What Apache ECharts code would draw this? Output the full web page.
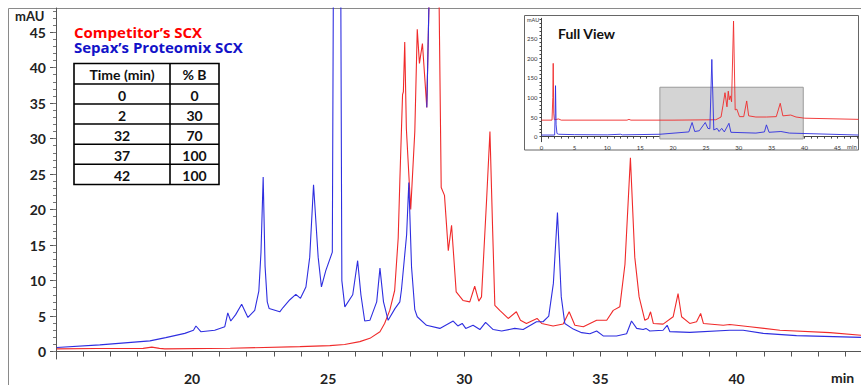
<!DOCTYPE html>
<html>
<head>
<meta charset="utf-8">
<script src="https://cdn.jsdelivr.net/npm/echarts@6/dist/echarts.min.js"></script>
<style>
  html, body { margin: 0; padding: 0; background: #fff; }
  #chart { width: 861px; height: 385px; }
</style>
</head>
<body>
<div id="chart"></div>
<script>
// main view, [time (min), mAU]
const competitorTrace = [
  [15.03, 0.38], [16.5, 0.42], [18.2, 0.45], [18.52, 0.62], [18.8, 0.45], [19.0, 0.38], [21.4, 0.46],
  [23.96, 0.7], [25.06, 0.84], [25.6, 1.0], [26.16, 1.4], [26.53, 1.86], [26.9, 2.8], [27.07, 3.96],
  [27.26, 5.8], [27.44, 8.6], [27.57, 16], [27.63, 24], [27.73, 36.2], [27.76, 36.6], [27.81, 43.6],
  [27.87, 31.4], [28.03, 20.0], [28.18, 31], [28.27, 45.4], [28.35, 40.6], [28.46, 43.4], [28.62, 34.4],
  [28.7, 49], [28.9, 250], [29.07, 50], [29.15, 23.1], [29.27, 22], [29.41, 14.2], [29.53, 17.8],
  [29.7, 8.4], [29.95, 7.2], [30.2, 7.0], [30.38, 9.2], [30.53, 7.1], [30.63, 7.7], [30.82, 21.6],
  [30.94, 31.0], [31.04, 17], [31.12, 6.5], [31.3, 5.8], [31.61, 4.66], [31.91, 5.6], [32.06, 4.4],
  [32.28, 3.96], [32.67, 4.66], [32.84, 3.96], [33.26, 3.6], [33.63, 3.87], [33.85, 5.6], [34.06, 3.7],
  [34.37, 3.5], [34.86, 4.4], [35.23, 4.4], [35.47, 5.8], [35.71, 6.3], [35.9, 12.3], [36.1, 27.3],
  [36.26, 13.3], [36.42, 7.7], [36.63, 4.4], [36.75, 4.66], [36.84, 5.6], [36.94, 3.96], [37.3, 3.87],
  [37.67, 4.9], [37.85, 8.15], [37.98, 4.9], [38.28, 3.96], [38.53, 4.2], [38.68, 5.36], [38.78, 3.96],
  [39.51, 3.7], [39.75, 3.8], [40.49, 3.5], [41.59, 3.0], [43.43, 2.66], [44.57, 2.3]
];
const sepaxTrace = [
  [15.03, 0.56], [16.61, 0.94], [18.45, 1.5], [19.03, 1.96], [19.73, 2.56], [20.05, 3.0], [20.14, 3.6],
  [20.32, 2.8], [20.83, 3.0], [21.2, 3.5], [21.31, 5.45], [21.42, 4.3], [21.6, 5.2], [21.82, 6.67],
  [22.05, 4.8], [22.3, 5.8], [22.45, 8.5], [22.53, 14], [22.61, 24.6], [22.68, 12], [22.76, 7],
  [22.83, 6.06], [23.22, 5.6], [23.34, 6.2], [23.59, 7.3], [23.81, 8.05], [23.98, 7.5], [24.18, 9.1],
  [24.32, 13.3], [24.46, 23.5], [24.63, 13.3], [24.75, 9.1], [24.91, 11.4], [25.15, 14], [25.33, 190],
  [25.5, 10], [25.61, 6.3], [25.9, 8], [26.08, 12.8], [26.2, 8], [26.34, 4.3], [26.53, 4.4], [26.78, 7],
  [26.9, 11.75], [27.03, 7], [27.2, 4.4], [27.45, 6.05], [27.63, 7.0], [27.69, 8.7], [27.88, 16.5],
  [27.96, 23.8], [28.06, 11.9], [28.18, 5.9], [28.27, 4.9], [28.61, 3.7], [29.1, 3.26], [29.59, 4.3],
  [29.76, 3.6], [29.92, 3.96], [30.05, 3.26], [30.32, 3.7], [30.57, 3.1], [30.78, 4.1], [31.06, 3.1],
  [31.37, 2.9], [31.85, 3.26], [32.16, 3.1], [32.65, 4.2], [32.89, 4.2], [33.1, 5], [33.27, 9.6],
  [33.42, 19.6], [33.56, 7.7], [33.69, 3.96], [34.0, 3.16], [34.31, 2.66], [34.61, 2.5], [34.86, 2.9],
  [35.1, 2.2], [35.59, 2.2], [35.96, 2.5], [36.14, 4.3], [36.33, 3.26], [36.57, 3.1], [36.67, 3.26],
  [36.81, 2.9], [37.3, 3.0], [37.45, 3.7], [37.55, 2.8], [38.28, 2.7], [39.75, 3.0], [40.24, 3.0],
  [40.98, 2.56], [42.2, 2.24], [44.57, 2.0]
];
// short piece of the big competitor peak that shows in blue in the original
const overlapPiece = [[28.62, 34.4], [28.7, 49]];

// full view inset
const fullCompetitor = [
  [0, 42], [1.6, 42], [1.72, 100], [1.78, 187], [1.86, 60], [1.95, 43], [2.6, 45], [3.0, 42], [13, 42],
  [13.3, 44], [13.6, 42], [20, 42], [26.5, 43], [27.3, 50], [27.6, 80], [27.9, 112], [28.2, 76],
  [28.4, 116], [28.55, 94], [28.7, 104], [28.9, 89], [29.2, 295], [29.45, 68], [29.7, 70], [30.1, 51],
  [30.75, 51], [31.2, 91], [31.5, 53], [32.6, 50], [34.2, 50], [35.7, 51], [36.3, 85], [36.7, 53],
  [37.9, 55], [38.7, 50], [40, 47], [48.2, 44]
];
const fullSepax = [
  [0, 4], [2.0, 4], [2.08, 60], [2.13, 130], [2.22, 30], [2.35, 8], [2.6, 6], [5, 5], [10, 4.5], [12, 6],
  [12.3, 4.5], [18, 6], [22.4, 12], [22.9, 36], [23.3, 13], [24, 15], [24.9, 36], [25.3, 21], [25.6, 20],
  [25.9, 197], [26.2, 17], [26.7, 21], [27.0, 13], [27.4, 21], [27.8, 12], [28.5, 34], [28.8, 11],
  [32.6, 9], [33.9, 12], [34.2, 30], [34.6, 11], [36.4, 13], [37.7, 9], [48.2, 4]
];
const zoomWindowMin = [18, 39.8];
const zoomWindowMAU = [-6, 126];

const gradientTime = ['0', '2', '32', '37', '42'];
const gradientB = ['0', '30', '70', '100', '100'];

const mainLabels = [0, 5, 10, 15, 20, 25, 30, 35, 40, 45];
const mainMinor = Array.from({ length: 49 }, (_, i) => i);
const insetLabels = [0, 50, 100, 150, 200, 250];
const insetMinor = Array.from({ length: 31 }, (_, i) => i * 10);

const RED = '#f02a2a';
const BLUE = '#2e2ee0';
const FONT = 'Lato, "Open Sans", sans-serif';
const LEGEND_FONT = '"Open Sans", sans-serif';

const chart = echarts.init(document.getElementById('chart'), null, { renderer: 'svg' });

// gradient table
const tableEls = [];
const rowLines = [84, 104, 124, 144.3, 164.3];
const rowMid = [95, 115, 135.5, 155.5, 175.5];
tableEls.push({ type: 'rect', shape: { x: 74, y: 63.5, width: 145, height: 121 }, style: { fill: '#fff', stroke: '#000', lineWidth: 1.6 } });
tableEls.push({ type: 'line', shape: { x1: 170, y1: 63.5, x2: 170, y2: 184.5 }, style: { stroke: '#000', lineWidth: 1.6 } });
rowLines.forEach(y => {
  tableEls.push({ type: 'line', shape: { x1: 74, y1: y, x2: 219, y2: y }, style: { stroke: '#000', lineWidth: 1.6 } });
});
const cellFont = { fontSize: 14, fontWeight: 'bold', fontFamily: FONT, fill: '#111', align: 'center', verticalAlign: 'middle' };
tableEls.push({ type: 'text', x: 122, y: 74.5, style: Object.assign({ text: 'Time (min)' }, cellFont) });
tableEls.push({ type: 'text', x: 194.5, y: 74.5, style: Object.assign({ text: '% B' }, cellFont) });
gradientTime.forEach((t, i) => {
  tableEls.push({ type: 'text', x: 122, y: rowMid[i], style: Object.assign({ text: t }, cellFont) });
  tableEls.push({ type: 'text', x: 194.5, y: rowMid[i], style: Object.assign({ text: gradientB[i] }, cellFont) });
});

const option = {
  animation: false,
  backgroundColor: '#fff',
  grid: [
    { left: 56, top: 8, right: 0, bottom: 22 },
    { left: 541.5, top: 18.3, right: 2.5, bottom: 243.3 }
  ],
  xAxis: [
    {
      gridIndex: 0, type: 'value', min: 15, max: 44.57, interval: 1,
      axisLine: { lineStyle: { color: '#555', width: 1 } },
      axisTick: { length: 5, lineStyle: { color: '#555' } },
      axisLabel: {
        formatter: v => (v % 5 === 0 ? String(v) : ''),
        fontSize: 14, fontWeight: 'bold', fontFamily: FONT, color: '#222', margin: 12,
        showMinLabel: false, showMaxLabel: false
      },
      splitLine: { show: false }
    },
    {
      gridIndex: 1, type: 'value', min: 0, max: 48.2, interval: 1,
      axisLine: { lineStyle: { color: '#444' } },
      axisTick: { length: 2, lineStyle: { color: '#444' } },
      axisLabel: {
        formatter: v => (v % 5 === 0 ? String(v) : ''),
        fontSize: 6, fontFamily: FONT, color: '#333', margin: 3, showMaxLabel: false
      },
      splitLine: { show: false }
    }
  ],
  yAxis: [
    {
      gridIndex: 0, type: 'value', min: -1.05, max: 48.4, position: 'left',
      axisLine: { show: true, lineStyle: { color: '#555' } },
      axisTick: { show: true, length: 6, customValues: mainLabels, lineStyle: { color: '#555' } },
      axisLabel: {
        customValues: mainLabels, fontSize: 14, fontWeight: 'bold', fontFamily: FONT, color: '#222', margin: 10,
        padding: [4, 0, 0, 0]
      },
      splitLine: { show: false }
    },
    {
      gridIndex: 0, type: 'value', min: -1.05, max: 48.4, position: 'left',
      axisLine: { show: false },
      axisTick: { show: true, length: 3, customValues: mainMinor, lineStyle: { color: '#777' } },
      axisLabel: { show: false },
      splitLine: { show: false }
    },
    {
      gridIndex: 1, type: 'value', min: -13, max: 302, position: 'left',
      axisLine: { show: true, lineStyle: { color: '#444' } },
      axisTick: { show: true, length: 2, customValues: insetMinor, lineStyle: { color: '#444' } },
      axisLabel: { customValues: insetLabels, fontSize: 6, fontFamily: FONT, color: '#333', margin: 4 },
      splitLine: { show: false }
    }
  ],
  series: [
    {
      name: "Competitor’s SCX", type: 'line', xAxisIndex: 0, yAxisIndex: 0, data: competitorTrace,
      showSymbol: false, color: RED, lineStyle: { color: RED, width: 1.1 }, z: 3
    },
    {
      name: "Sepax’s Proteomix SCX", type: 'line', xAxisIndex: 0, yAxisIndex: 0, data: sepaxTrace,
      showSymbol: false, color: BLUE, lineStyle: { color: BLUE, width: 1.1 }, z: 4
    },
    {
      type: 'line', xAxisIndex: 0, yAxisIndex: 0, data: overlapPiece,
      showSymbol: false, color: BLUE, lineStyle: { color: BLUE, width: 1.1 }, z: 5
    },
    {
      type: 'line', xAxisIndex: 1, yAxisIndex: 2, data: fullCompetitor,
      showSymbol: false, color: RED, lineStyle: { color: RED, width: 0.9 }, z: 3,
      markArea: {
        silent: true,
        itemStyle: { color: '#d4d4d4', borderColor: '#9a9a9a', borderWidth: 1 },
        data: [[{ xAxis: zoomWindowMin[0], yAxis: zoomWindowMAU[0] }, { xAxis: zoomWindowMin[1], yAxis: zoomWindowMAU[1] }]]
      }
    },
    {
      type: 'line', xAxisIndex: 1, yAxisIndex: 2, data: fullSepax,
      showSymbol: false, color: BLUE, lineStyle: { color: BLUE, width: 0.9 }, z: 4
    }
  ],
  graphic: [
    { type: 'rect', z: -1, shape: { x: 8.5, y: 8.5, width: 900, height: 400 }, style: { fill: 'none', stroke: '#8a8a8a', lineWidth: 1 } },
    { type: 'rect', z: -1, shape: { x: 524.5, y: 15.5, width: 334, height: 134.5 }, style: { fill: '#fff', stroke: '#666', lineWidth: 1 } },
    { type: 'text', x: 15, y: 16, style: { text: 'mAU', fontSize: 13, fontWeight: 'bold', fontFamily: FONT, fill: '#222', verticalAlign: 'middle' } },
    { type: 'text', x: 831, y: 377.5, style: { text: 'min', fontSize: 14, fontWeight: 'bold', fontFamily: FONT, fill: '#222', verticalAlign: 'middle' } },
    {
      type: 'text', x: 74, y: 39.25, z: 10,
      style: {
        text: '{r|Competitor’s SCX}\n{b|Sepax’s Proteomix SCX}',
        verticalAlign: 'middle',
        fontSize: 15, fontWeight: 'bold', fontFamily: LEGEND_FONT,
        rich: {
          r: { fontSize: 15, fontWeight: 'bold', fontFamily: LEGEND_FONT, fill: '#ff0000', lineHeight: 15.5 },
          b: { fontSize: 15, fontWeight: 'bold', fontFamily: LEGEND_FONT, fill: '#1212c8', lineHeight: 15.5 }
        }
      }
    },
    { type: 'group', z: 10, children: tableEls },
    { type: 'text', x: 558, y: 33.5, z: 10, style: { text: 'Full View', fontSize: 14, fontWeight: 'bold', fontFamily: FONT, fill: '#111', verticalAlign: 'middle' } },
    { type: 'text', x: 527, y: 19.5, z: 10, style: { text: 'mAU', fontSize: 5.5, fontFamily: FONT, fill: '#333', verticalAlign: 'middle' } },
    { type: 'text', x: 847, y: 146, z: 10, style: { text: 'min', fontSize: 6, fontFamily: FONT, fill: '#333', verticalAlign: 'middle' } }
  ]
};

chart.setOption(option);
</script>
</body>
</html>
